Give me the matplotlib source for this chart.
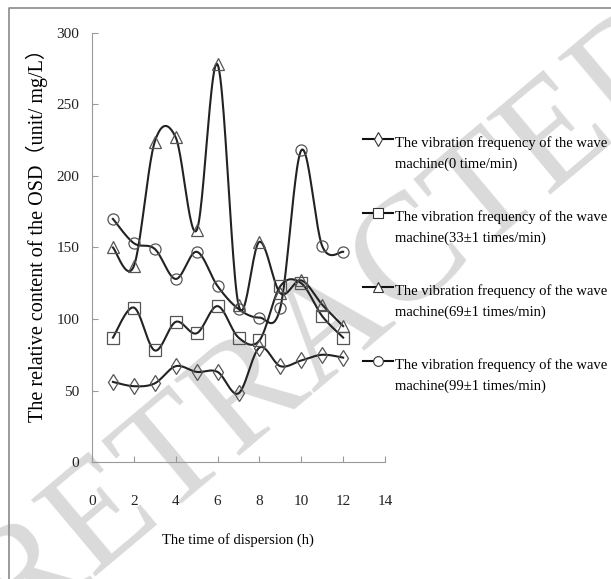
import numpy as np
import matplotlib
matplotlib.use("Agg")
import matplotlib.pyplot as plt
from matplotlib.lines import Line2D

# time of dispersion (h)
hours = [1, 2, 3, 4, 5, 6, 7, 8, 9, 10, 11, 12]
# relative content of OSD for each vibration frequency
freq_0 = [56, 53, 55, 67, 63, 63, 48, 80, 67, 71, 75, 73]
freq_33 = [87, 108, 78, 98, 90, 109, 87, 85, 123, 125, 102, 87]
freq_69 = [150, 137, 224, 227, 162, 278, 110, 154, 118, 127, 110, 95]
freq_99 = [170, 153, 149, 128, 147, 123, 107, 101, 108, 218, 151, 147]

labels = ["The vibration frequency of the wave\nmachine(0 time/min)",
          "The vibration frequency of the wave\nmachine(33\u00b11 times/min)",
          "The vibration frequency of the wave\nmachine(69\u00b11 times/min)",
          "The vibration frequency of the wave\nmachine(99\u00b11 times/min)"]
markers = ["d", "s", "^", "o"]
series = [freq_0, freq_33, freq_69, freq_99]

xticks = [0, 2, 4, 6, 8, 10, 12, 14]
yticks = [0, 50, 100, 150, 200, 250, 300]

serif = ["Liberation Serif", "Noto Sans CJK SC", "DejaVu Sans"]


def smooth(xs, ys, n=25):
    # excel-like smoothed line: bezier with catmull-rom control points
    p = np.column_stack([xs, ys]).astype(float)
    p = np.vstack([p[0], p, p[-1]])
    t = np.linspace(0, 1, n)[:, None]
    out = []
    for i in range(1, len(p) - 2):
        p0, p1, p2, p3 = p[i - 1], p[i], p[i + 1], p[i + 2]
        c1 = p1 + (p2 - p0) / 6
        c2 = p2 - (p3 - p1) / 6
        seg = (1 - t) ** 3 * p1 + 3 * (1 - t) ** 2 * t * c1 + 3 * (1 - t) * t ** 2 * c2 + t ** 3 * p2
        out.append(seg if i == 1 else seg[1:])
    return np.vstack(out)


fig = plt.figure(figsize=(6.11, 5.79), dpi=100)
ax = fig.add_axes([92 / 611, 117 / 579, 293 / 611, 429 / 579])
ax.set_facecolor("none")

# watermark, runs off the top right corner like the scanned page
wm = fig.text(335 / 611, 1 - 324 / 579, "RETRACTED", fontsize=110, rotation=40,
              color="#dadada", family=serif, ha="center", va="center", zorder=-5)
wm.set_clip_on(False)

# page frame (top and left edges)
fig.add_artist(Line2D([9 / 611, 9 / 611, 1.0], [0.0, 1 - 8 / 579, 1 - 8 / 579],
                      transform=fig.transFigure, color="#8a8a8a", lw=1.2))

for vals, m in zip(series, markers):
    curve = smooth(hours, vals)
    ax.plot(curve[:, 0], curve[:, 1], color="#222222", lw=1.5, zorder=3)
    ax.plot(hours, vals, ls="none", marker=m, ms=8,
            mfc="none", mec="#555555", mew=0.9, zorder=4)

ax.set_xlim(0, 14)
ax.set_ylim(0, 300)
ax.set_xticks(xticks)
ax.set_yticks(yticks)
for s in ["top", "right"]:
    ax.spines[s].set_visible(False)
for s in ["left", "bottom"]:
    ax.spines[s].set_color("#999999")
ax.tick_params(direction="in", length=4, color="#999999", labelsize=11)
ax.tick_params(axis="x", pad=24)
ax.tick_params(axis="y", pad=9)
for lab in ax.get_xticklabels() + ax.get_yticklabels():
    lab.set_family(serif)
    lab.set_color("#222222")

fig.text(37 / 611, 1 - 230 / 579, "The relative content of the OSD\uff08unit/ mg/L\uff09",
         rotation=90, ha="center", va="center", fontsize=14.5, family=serif)
fig.text(238 / 611, 1 - 540 / 579, "The time of dispersion (h)", ha="center", va="center",
         fontsize=10.5, family=serif)

# legend drawn by hand so the handle sits on the first text line
for k, (lab, m) in enumerate(zip(labels, markers)):
    yh = 1 - (139 + 74 * k) / 579
    fig.add_artist(Line2D([363 / 611, 393 / 611], [yh, yh], transform=fig.transFigure,
                          color="#111111", lw=1.5))
    fig.add_artist(Line2D([378 / 611], [yh], transform=fig.transFigure, marker=m,
                          ms=7, mfc="white", mec="#333333", mew=0.8))
    fig.text(395 / 611, yh + 3 / 579, lab, ha="left", va="top", fontsize=10.5,
             family=serif, linespacing=1.75, transform=fig.transFigure)

fig.savefig("out.png", dpi=100)
